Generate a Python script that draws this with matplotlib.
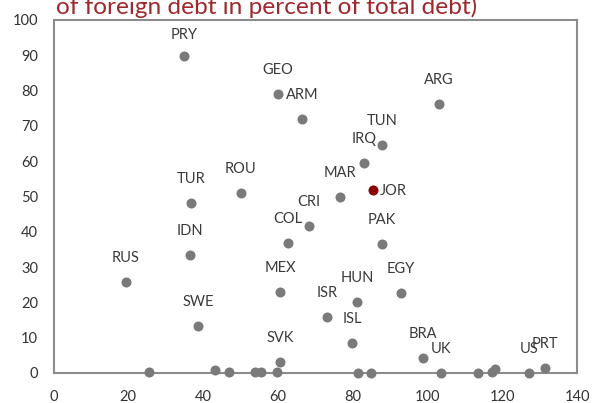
import matplotlib
matplotlib.use("Agg")
import matplotlib.pyplot as plt

# Labeled countries
labels = ["PRY", "GEO", "ARM", "ARG", "TUN", "IRQ", "MAR", "CRI", "COL", "PAK",
          "TUR", "ROU", "IDN", "RUS", "MEX", "SWE", "SVK", "HUN", "EGY", "ISR",
          "ISL", "BRA", "UK", "US", "PRT"]
x_lab = [34.8, 60.1, 66.4, 103.0, 87.8, 83.1, 76.6, 68.4, 62.6, 87.8,
         36.8, 50.1, 36.6, 19.3, 60.7, 38.6, 60.7, 81.2, 92.8, 73.1,
         79.9, 98.7, 103.7, 127.1, 131.5]
y_lab = [89.9, 79.0, 71.9, 76.3, 64.6, 59.6, 49.9, 41.7, 36.9, 36.5,
         48.2, 51.1, 33.4, 25.7, 22.9, 13.4, 3.0, 20.0, 22.7, 15.9,
         8.5, 4.3, 0.0, 0.0, 1.5]

# Highlighted country
hl_label = "JOR"
hl_x = 85.5
hl_y = 51.8

# Unlabeled points
x_unl = [25.5, 43.2, 47.0, 53.9, 55.5, 59.7, 81.5, 85.0, 113.5, 117.2, 118.0]
y_unl = [0.2, 0.85, 0.2, 0.2, 0.2, 0.2, 0.0, 0.0, 0.0, 0.2, 1.0]

title_text = "of foreign debt in percent of total debt)"
x_ticks = [0, 20, 40, 60, 80, 100, 120, 140]
y_ticks = [0, 10, 20, 30, 40, 50, 60, 70, 80, 90, 100]

plt.rcParams['font.family'] = ['Lato', 'DejaVu Sans']

fig = plt.figure(figsize=(5.92, 4.03), dpi=100)
ax = fig.add_axes([53.5 / 592, 30 / 403, (577 - 53.5) / 592, (373 - 20) / 403])

dot_color = '#7a7a7a'
ax.scatter(x_lab + x_unl, y_lab + y_unl, s=52, color=dot_color, zorder=4,
           clip_on=False, linewidths=0)
ax.scatter([hl_x], [hl_y], s=52, color='#8b0000', zorder=5, clip_on=False,
           linewidths=0)

txt_color = '#3a3a3a'
for lab, xv, yv in zip(labels, x_lab, y_lab):
    dy = 21 if lab == "PRY" else 24
    ax.annotate(lab, (xv, yv), xytext=(0, dy), textcoords='offset pixels',
                ha='center', va='center', fontsize=10.5, color=txt_color,
                zorder=6)
ax.annotate(hl_label, (hl_x, hl_y), xytext=(7, -1), textcoords='offset pixels',
            ha='left', va='center', fontsize=10.5, color=txt_color, zorder=6)

ax.set_xlim(0, 140)
ax.set_ylim(0, 100)
ax.set_xticks(x_ticks)
ax.set_yticks(y_ticks)
ax.tick_params(length=0, labelsize=10.5, labelcolor='#333333')
ax.tick_params(axis='y', pad=11)
ax.tick_params(axis='x', pad=12)
for side in ['left', 'bottom', 'top', 'right']:
    ax.spines[side].set_color('#8c8c8c')
    ax.spines[side].set_linewidth(1.5)

fig.text(56 / 592, 1 - 13.5 / 403, title_text, ha='left', va='baseline',
         fontsize=17.6, color='#a0282c')

fig.savefig('out.png', dpi=100)
